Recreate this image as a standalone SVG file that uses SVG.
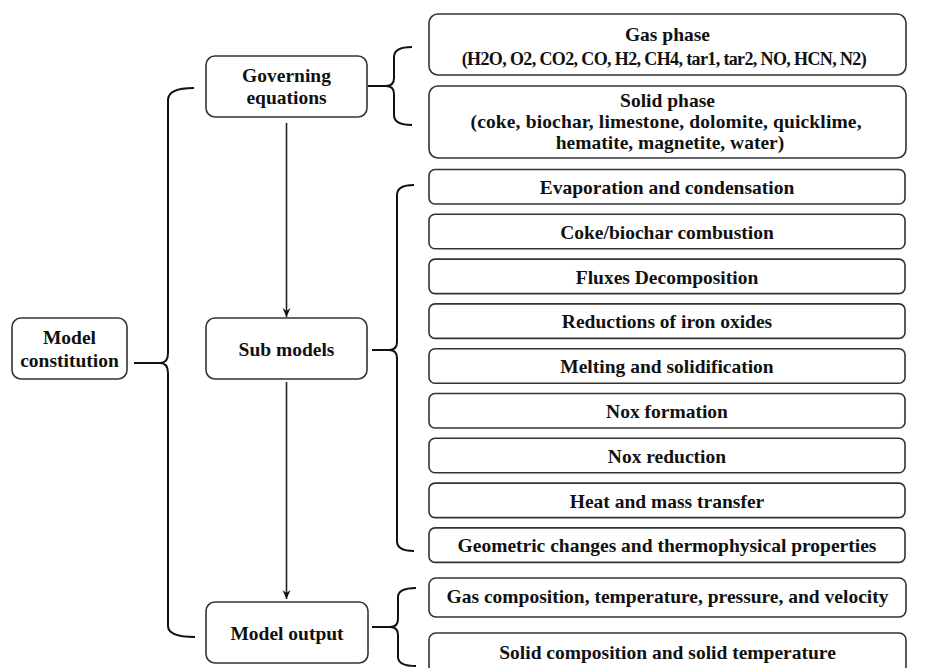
<svg xmlns="http://www.w3.org/2000/svg" width="932" height="668" viewBox="0 0 932 668">
<defs>
<marker id="ah" markerWidth="10" markerHeight="10" refX="9" refY="5" orient="auto" markerUnits="userSpaceOnUse">
<path d="M0,1 L9,5 L0,9 L3,5 Z" fill="#111"/>
</marker>
<style>
.box{fill:#fff;stroke:#333;stroke-width:1.6}
.t{font-weight:bold;font-size:19.5px;fill:#111;text-anchor:middle}
.s{font-size:18px}
.br{fill:none;stroke:#111;stroke-width:2}
.ln{fill:none;stroke:#222;stroke-width:1.6}
</style>
</defs>
<rect width="932" height="668" fill="#fff"/>

<g id="connectors">
<path class="br" d="M134,363 L160,363"/>
<path class="br" d="M194,88 Q168,88 168,100 L168,353 Q168,363 160,363 Q168,363 168,373 L168,626 Q168,637 195,637"/>
<path class="br" d="M368,86 L386,86"/>
<path class="br" d="M412,47 Q394,47 394,57 L394,78 Q394,86 386,86 Q394,86 394,94 L394,115 Q394,125 412,125"/>
<path class="br" d="M372,350 L389,350"/>
<path class="br" d="M414,185 Q397,185 397,195 L397,342 Q397,350 389,350 Q397,350 397,358 L397,541 Q397,551 414,551"/>
<path class="br" d="M372,627 L390,627"/>
<path class="br" d="M416,588 Q398,588 398,597 L398,619 Q398,627 390,627 Q398,627 398,635 L398,657 Q398,666 416,666"/>
<line class="ln" x1="286.5" y1="123" x2="286.5" y2="317" marker-end="url(#ah)"/>
<line class="ln" x1="286.5" y1="382" x2="286.5" y2="599" marker-end="url(#ah)"/>
</g>

<g font-family="'Liberation Serif', 'Times New Roman', 'DejaVu Serif', serif">
<g id="model-constitution">
<rect class="box" x="12" y="318" width="115" height="61" rx="9"/>
<text class="t" x="69.5" y="344">Model</text>
<text class="t" x="69.5" y="367">constitution</text>
</g>

<g id="governing-equations">
<rect class="box" x="206" y="56" width="161" height="61" rx="9"/>
<text class="t" x="286.5" y="82">Governing</text>
<text class="t" x="286.5" y="104">equations</text>
</g>

<g id="sub-models">
<rect class="box" x="206" y="318" width="161" height="61" rx="9"/>
<text class="t" x="286.5" y="356">Sub models</text>
</g>

<g id="model-output">
<rect class="box" x="206" y="602" width="162" height="61" rx="9"/>
<text class="t" x="287" y="640">Model output</text>
</g>

<g id="gas-phase">
<rect class="box" x="429" y="14" width="477" height="61" rx="9"/>
<text class="t" x="667.5" y="41">Gas phase</text>
<text class="t s" x="664.2" y="65" textLength="405" lengthAdjust="spacing">(H2O, O2, CO2, CO, H2, CH4, tar1, tar2, NO, HCN, N2)</text>
</g>

<g id="solid-phase">
<rect class="box" x="429" y="86" width="477" height="72" rx="9"/>
<text class="t" x="667.5" y="107">Solid phase</text>
<text class="t" x="666" y="128" textLength="391" lengthAdjust="spacing">(coke, biochar, limestone, dolomite, quicklime,</text>
<text class="t" x="670" y="149">hematite, magnetite, water)</text>
</g>

<g id="evaporation">
<rect class="box" x="429" y="169.5" width="476" height="34.5" rx="6"/>
<text class="t" x="667" y="194">Evaporation and condensation</text>
</g>
<g id="combustion">
<rect class="box" x="429" y="214.3" width="476" height="34.5" rx="6"/>
<text class="t" x="667" y="238.8">Coke/biochar combustion</text>
</g>
<g id="fluxes">
<rect class="box" x="429" y="259.1" width="476" height="34.5" rx="6"/>
<text class="t" x="667" y="283.6">Fluxes Decomposition</text>
</g>
<g id="reductions">
<rect class="box" x="429" y="303.9" width="476" height="34.5" rx="6"/>
<text class="t" x="667" y="328.4">Reductions of iron oxides</text>
</g>
<g id="melting">
<rect class="box" x="429" y="348.7" width="476" height="34.5" rx="6"/>
<text class="t" x="667" y="373.2">Melting and solidification</text>
</g>
<g id="nox-formation">
<rect class="box" x="429" y="393.5" width="476" height="34.5" rx="6"/>
<text class="t" x="667" y="418">Nox formation</text>
</g>
<g id="nox-reduction">
<rect class="box" x="429" y="438.3" width="476" height="34.5" rx="6"/>
<text class="t" x="667" y="462.8">Nox reduction</text>
</g>
<g id="heat-mass">
<rect class="box" x="429" y="483.1" width="476" height="34.5" rx="6"/>
<text class="t" x="667" y="507.6">Heat and mass transfer</text>
</g>
<g id="geometric">
<rect class="box" x="429" y="527.9" width="476" height="34.5" rx="6"/>
<text class="t" x="667" y="552.4">Geometric changes and thermophysical properties</text>
</g>

<g id="gas-composition">
<rect class="box" x="429" y="578" width="477" height="39" rx="7"/>
<text class="t" x="667.5" y="603">Gas composition, temperature, pressure, and velocity</text>
</g>
<g id="solid-composition">
<rect class="box" x="429" y="633" width="477" height="40" rx="7"/>
<text class="t" x="667.5" y="659">Solid composition and solid temperature</text>
</g>
</g>
</svg>
